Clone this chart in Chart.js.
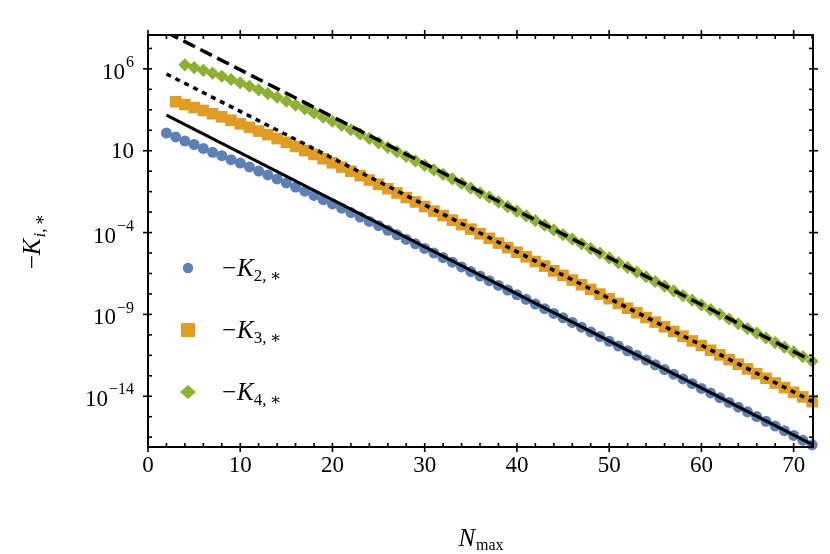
<!DOCTYPE html>
<html>
<head>
<meta charset="utf-8">
<script src="https://cdn.jsdelivr.net/npm/chart.js@4.4.1/dist/chart.umd.min.js"></script>
<style>
html,body{margin:0;background:#fff}
#wrap{width:830px;height:554px}
</style>
</head>
<body>
<div id="wrap"><canvas id="c"></canvas></div>
<script>
/* N_max values (shared x for all series) */
const nMax=[2,3,4,5,6,7,8,9,10,11,12,13,14,15,16,17,18,19,20,21,22,23,24,25,26,27,28,29,30,31,
  32,33,34,35,36,37,38,39,40,41,42,43,44,45,46,47,48,49,50,51,52,53,54,55,56,57,58,59,60,61,
  62,63,64,65,66,67,68,69,70,71,72];

/* log10 of -K_{i,*} */
const k2Exp=[2.08,1.84,1.59,1.38,1.14,0.90,0.70,0.45,0.25,0.01,
  -0.24,-0.48,-0.72,-0.97,-1.22,-1.47,-1.73,-1.99,-2.25,-2.51,
  -2.78,-3.05,-3.32,-3.58,-3.86,-4.14,-4.42,-4.69,-4.97,-5.25,
  -5.53,-5.81,-6.10,-6.38,-6.66,-6.94,-7.23,-7.51,-7.80,-8.08,
  -8.37,-8.65,-8.94,-9.21,-9.49,-9.78,-10.07,-10.35,-10.64,-10.93,
  -11.22,-11.50,-11.79,-12.08,-12.37,-12.65,-12.94,-13.23,-13.52,-13.80,
  -14.09,-14.38,-14.67,-14.95,-15.24,-15.53,-15.82,-16.10,-16.39,-16.68,
  -16.97];
const k3Exp=[null,
  3.99,3.82,3.64,3.46,3.26,3.07,2.86,2.64,2.43,
  2.20,1.98,1.74,1.51,1.26,1.01,0.77,0.51,0.26,0.00,
  -0.25,-0.52,-0.79,-1.05,-1.32,-1.58,-1.86,-2.13,-2.41,-2.69,
  -2.96,-3.24,-3.51,-3.79,-4.07,-4.35,-4.64,-4.92,-5.20,-5.48,
  -5.77,-6.05,-6.34,-6.62,-6.90,-7.19,-7.47,-7.76,-8.04,-8.33,
  -8.62,-8.90,-9.19,-9.47,-9.76,-10.04,-10.33,-10.62,-10.90,-11.19,
  -11.47,-11.76,-12.04,-12.33,-12.62,-12.90,-13.19,-13.47,-13.76,-14.04,
  -14.33];
const k4Exp=[null,null,
  6.25,6.08,5.91,5.74,5.55,5.35,5.15,4.94,
  4.72,4.49,4.27,4.03,3.79,3.56,3.31,3.05,2.80,2.54,
  2.28,2.02,1.75,1.48,1.21,0.94,0.66,0.38,0.11,-0.17,
  -0.45,-0.72,-1.00,-1.28,-1.57,-1.84,-2.13,-2.42,-2.69,-2.98,
  -3.27,-3.55,-3.84,-4.12,-4.40,-4.69,-4.98,-5.26,-5.55,-5.84,
  -6.13,-6.41,-6.70,-6.99,-7.27,-7.56,-7.85,-8.13,-8.42,-8.71,
  -8.99,-9.28,-9.57,-9.86,-10.14,-10.43,-10.72,-11.00,-11.29,-11.58,
  -11.86];

/* asymptotic fits (log10 at the two ends) */
const fitN=[2,72];
const fit2Exp=[3.18,-16.94];
const fit3Exp=[5.69,-14.31];
const fit4Exp=[8.24,-11.84];

/* ticks */
const xMajor=[0,10,20,30,40,50,60,70];
const xMinor=[2,4,6,8,12,14,16,18,22,24,26,28,32,34,36,38,42,44,46,48,52,54,56,58,62,64,66,68,72];
const yMajorExp=[6,1,-4,-9,-14];
const yMinorExp=[7.25,4.75,3.5,2.25,-0.25,-1.5,-2.75,-5.25,-6.5,-7.75,-10.25,-11.5,-12.75,-15.25,-16.5];
const yMinExp=-17.1,yMaxExp=8.07;

const blue='#5E81B5',orange='#E19C24',green='#8FB032';
const serif='"Liberation Serif","DejaVu Serif",serif';

const pts=(xs,es)=>xs.map((n,i)=>es[i]==null?null:{x:n,y:Math.pow(10,es[i])}).filter(p=>p);

/* frame, inward ticks, labels, legend */
const frame={
  id:'frame',
  afterDraw(c){
    const {ctx,chartArea:a,scales:{x,y}}=c;
    const yp=e=>y.getPixelForValue(Math.pow(10,e));
    ctx.save();
    ctx.strokeStyle='#000';ctx.fillStyle='#000';
    ctx.lineWidth=2;
    ctx.strokeRect(a.left,a.top,a.right-a.left,a.bottom-a.top);
    const tk=(x1,y1,x2,y2)=>{ctx.beginPath();ctx.moveTo(x1,y1);ctx.lineTo(x2,y2);ctx.stroke();};
    ctx.lineWidth=1.6;
    xMinor.forEach(v=>{const p=x.getPixelForValue(v);tk(p,a.bottom,p,a.bottom-4);tk(p,a.top,p,a.top+4);});
    xMajor.forEach(v=>{const p=x.getPixelForValue(v);tk(p,a.bottom+5,p,a.bottom-4);tk(p,a.top-5,p,a.top+4);});
    yMinorExp.forEach(e=>{const p=yp(e);tk(a.left,p,a.left+4,p);tk(a.right,p,a.right-4,p);});
    yMajorExp.forEach(e=>{const p=yp(e);tk(a.left-5,p,a.left+4,p);tk(a.right+5,p,a.right-4,p);});

    // x tick labels
    ctx.font='23px '+serif;ctx.textAlign='center';ctx.textBaseline='middle';
    xMajor.forEach(v=>ctx.fillText(String(v),x.getPixelForValue(v),466));

    // y tick labels 10^e
    ctx.textAlign='right';
    yMajorExp.forEach(e=>{
      const p=yp(e),rx=134;
      if(e===1){ctx.font='23px '+serif;ctx.fillText('10',rx,p+1);return;}
      const sup=String(e).replace('-','\u2212');
      ctx.font='16px '+serif;
      const w=ctx.measureText(sup).width;
      ctx.fillText(sup,rx,p-6);
      ctx.font='23px '+serif;
      ctx.fillText('10',rx-w-1,p+4);
    });

    // x title N_max
    ctx.textAlign='left';ctx.textBaseline='alphabetic';
    ctx.font='italic 25px '+serif;
    const nw=ctx.measureText('N').width;
    ctx.font='16px '+serif;
    const mw=ctx.measureText('max').width;
    const tx=481-(nw+mw+1)/2;
    ctx.font='italic 25px '+serif;ctx.fillText('N',tx,546);
    ctx.font='16px '+serif;ctx.fillText('max',tx+nw+1,550);

    // y title -K_{i,*}
    ctx.save();
    ctx.translate(40,242);ctx.rotate(-Math.PI/2);
    ctx.font='25px '+serif;
    const dw=ctx.measureText('\u2212').width;
    ctx.font='italic 25px '+serif;
    const kw=ctx.measureText('K').width;
    ctx.font='17px '+serif;
    const iw=ctx.measureText('i,\u2009\u2217').width;
    let ox=-(dw+kw+iw)/2;
    ctx.font='25px '+serif;ctx.fillText('\u2212',ox,0);ox+=dw;
    ctx.font='italic 25px '+serif;ctx.fillText('K',ox,0);ox+=kw+1;
    ctx.font='italic 17px '+serif;ctx.fillText('i',ox,5);
    ctx.font='17px '+serif;ctx.fillText(',\u2009\u2217',ox+ctx.measureText('i').width,5);
    ctx.restore();

    // legend
    const leg=[{c:blue,s:'circle',sub:'2'},{c:orange,s:'rect',sub:'3'},{c:green,s:'diamond',sub:'4'}];
    const ly=[268,330,392];
    leg.forEach((l,i)=>{
      const mx=188,my=ly[i];
      ctx.fillStyle=l.c;ctx.beginPath();
      if(l.s==='circle')ctx.arc(mx,my,5.2,0,Math.PI*2);
      else if(l.s==='rect')ctx.rect(mx-7,my-7,14,14);
      else{ctx.moveTo(mx,my-7);ctx.lineTo(mx+8,my);ctx.lineTo(mx,my+7);ctx.lineTo(mx-8,my);ctx.closePath();}
      ctx.fill();
      ctx.fillStyle='#000';
      let lx=222;const by=my+8;
      ctx.font='25px '+serif;ctx.fillText('\u2212',lx,by);lx+=ctx.measureText('\u2212').width+1;
      ctx.font='italic 25px '+serif;ctx.fillText('K',lx,by);lx+=ctx.measureText('K').width;
      ctx.font='17px '+serif;ctx.fillText(l.sub+',\u2009\u2217',lx,by+5);
    });
    ctx.restore();
  }
};

new Chart(document.getElementById('c'),{
  type:'scatter',
  data:{datasets:[
    {data:pts(fitN,fit2Exp),showLine:true,borderColor:'#000',borderWidth:3,pointRadius:0,order:0},
    {data:pts(fitN,fit3Exp),showLine:true,borderColor:'#000',borderWidth:3.5,borderDash:[5,5],pointRadius:0,order:0},
    {data:pts(fitN,fit4Exp),showLine:true,borderColor:'#000',borderWidth:3.5,borderDash:[13,6],pointRadius:0,order:0},
    {data:pts(nMax,k2Exp),pointStyle:'circle',pointRadius:5.5,backgroundColor:blue,borderWidth:0,order:1,clip:false},
    {data:pts(nMax,k3Exp),pointStyle:'rect',pointRadius:8.2,backgroundColor:orange,borderWidth:0,order:1,clip:false},
    {data:pts(nMax,k4Exp),pointStyle:'rectRot',pointRadius:6.6,backgroundColor:green,borderWidth:0,order:1,clip:false}
  ]},
  options:{
    responsive:true,maintainAspectRatio:false,animation:false,
    layout:{padding:{top:35,right:17,left:0,bottom:0}},
    plugins:{legend:{display:false},tooltip:{enabled:false}},
    elements:{point:{hoverRadius:0}},
    scales:{
      x:{type:'linear',min:0,max:72.1,
        ticks:{display:false},grid:{display:false},border:{display:false},
        afterFit(s){s.height=107;}},
      y:{type:'logarithmic',min:Math.pow(10,yMinExp),max:Math.pow(10,yMaxExp),
        ticks:{display:false},grid:{display:false},border:{display:false},
        afterFit(s){s.width=148;}}
    }
  },
  plugins:[frame]
});
</script>
</body>
</html>
